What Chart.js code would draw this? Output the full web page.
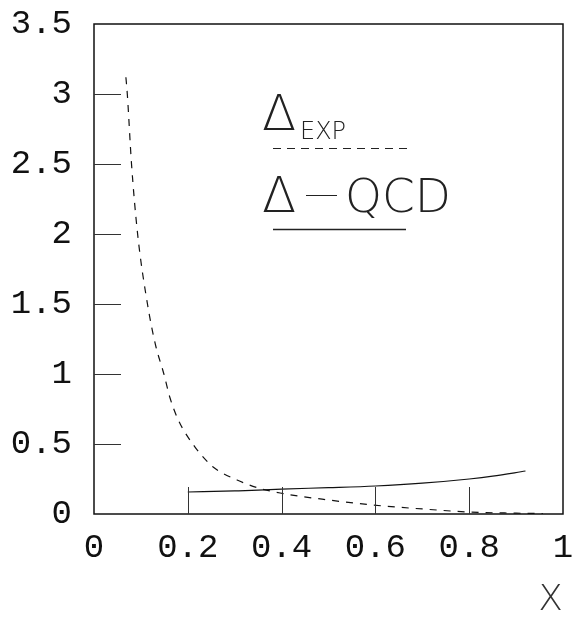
<!DOCTYPE html>
<html>
<head>
<meta charset="utf-8">
<script src="https://cdn.jsdelivr.net/npm/chart.js@4"></script>
<style>
  html, body { margin: 0; padding: 0; background: #fff; }
  #wrap { width: 573px; height: 619px; }
</style>
</head>
<body>
<div id="wrap"><canvas id="chartCanvas" width="573" height="619"></canvas></div>
<script>
// Delta_EXP curve (dashed)
var expX = [0.068, 0.071, 0.080, 0.093, 0.114, 0.131, 0.149, 0.162, 0.180, 0.215, 0.254, 0.305, 0.350, 0.397, 0.50, 0.595, 0.70, 0.80, 0.90, 0.957];
var expY = [3.12, 3.00, 2.50, 2.00, 1.50, 1.21, 1.00, 0.83, 0.67, 0.48, 0.336, 0.243, 0.186, 0.150, 0.100, 0.064, 0.036, 0.014, 0.006, 0.003];

// Delta - QCD curve (solid)
var qcdX = [0.20, 0.30, 0.35, 0.40, 0.50, 0.60, 0.70, 0.80, 0.85, 0.92];
var qcdY = [0.157, 0.165, 0.170, 0.178, 0.188, 0.200, 0.220, 0.250, 0.270, 0.307];

var xTicks = [0, 0.2, 0.4, 0.6, 0.8, 1];
var yTicks = [0, 0.5, 1, 1.5, 2, 2.5, 3, 3.5];

function toPoints(xs, ys) {
    return xs.map(function(x, i) { return { x: x, y: ys[i] }; });
}

// frame, inner ticks and the legend text
var framePlugin = {
    id: 'frame',
    afterDraw: function(chart) {
        var ctx = chart.ctx;
        var a = chart.chartArea;
        var xs = chart.scales.x, ys = chart.scales.y;
        ctx.save();
        ctx.strokeStyle = '#111';
        ctx.lineWidth = 1.5;
        ctx.strokeRect(a.left, a.top, a.right - a.left, a.bottom - a.top);
        ctx.lineWidth = 1;
        ctx.strokeStyle = '#333';
        yTicks.forEach(function(v) {
            if (v <= 0 || v >= 3.5) return;
            var py = Math.round(ys.getPixelForValue(v)) + 0.5;
            ctx.beginPath(); ctx.moveTo(a.left, py); ctx.lineTo(a.left + 27, py); ctx.stroke();
        });
        xTicks.forEach(function(v) {
            if (v <= 0 || v >= 1) return;
            var px = Math.round(xs.getPixelForValue(v)) + 0.5;
            ctx.beginPath(); ctx.moveTo(px, a.bottom); ctx.lineTo(px, a.bottom - 27); ctx.stroke();
        });

        // legend
        ctx.fillStyle = '#222';
        ctx.textBaseline = 'alphabetic';
        ctx.font = '200 50px "DejaVu Sans"';
        ctx.fillText('\u0394', 262, 130);
        ctx.font = '200 24px "DejaVu Sans"';
        ctx.fillText('EXP', 300, 139);
        ctx.setLineDash([8, 6]);
        ctx.strokeStyle = '#222';
        ctx.beginPath(); ctx.moveTo(273, 148.5); ctx.lineTo(408, 148.5); ctx.stroke();
        ctx.setLineDash([]);
        ctx.font = '200 50px "DejaVu Sans"';
        ctx.fillText('\u0394', 262, 212);
        ctx.beginPath(); ctx.moveTo(306, 195.5); ctx.lineTo(337, 195.5); ctx.stroke();
        ctx.font = '200 47px "DejaVu Sans"';
        ctx.fillText('QCD', 345, 212);
        ctx.lineWidth = 1.3;
        ctx.beginPath(); ctx.moveTo(273, 229.5); ctx.lineTo(406, 229.5); ctx.stroke();
        ctx.restore();
    }
};

var ctx = document.getElementById('chartCanvas').getContext('2d');
var myChart = new Chart(ctx, {
    type: 'scatter',
    data: {
        datasets: [{
            label: 'EXP',
            data: toPoints(expX, expY),
            showLine: true,
            borderColor: '#111',
            borderWidth: 1.2,
            borderDash: [7, 7],
            pointRadius: 0,
            cubicInterpolationMode: 'monotone'
        },
        {
            label: 'QCD',
            data: toPoints(qcdX, qcdY),
            showLine: true,
            borderColor: '#111',
            borderWidth: 1.2,
            pointRadius: 0,
            cubicInterpolationMode: 'monotone'
        }]
    },
    options: {
        responsive: false,
        animation: false,
        layout: { padding: { top: 24, right: 10, left: 0, bottom: 0 } },
        plugins: { legend: { display: false }, tooltip: { enabled: false } },
        scales: {
            x: {
                type: 'linear',
                min: 0,
                max: 1,
                afterBuildTicks: function(axis) {
                    axis.ticks = xTicks.map(function(v) { return { value: v }; });
                },
                afterFit: function(axis) {
                    axis.height = 105;
                    axis.paddingLeft = 0;
                    axis.paddingRight = 0;
                },
                grid: { display: false, drawTicks: false },
                border: { display: false },
                ticks: {
                    padding: 14,
                    maxRotation: 0,
                    color: '#111',
                    font: { family: '"Liberation Mono"', size: 34 },
                    callback: function(v) { return String(Math.round(v * 10) / 10); }
                },
                title: {
                    display: true,
                    text: 'X',
                    align: 'end',
                    color: '#333',
                    font: { family: '"DejaVu Sans"', size: 36, weight: 200, lineHeight: 1 },
                    padding: { top: 0, bottom: 0 }
                }
            },
            y: {
                type: 'linear',
                min: 0,
                max: 3.5,
                afterBuildTicks: function(axis) {
                    axis.ticks = yTicks.map(function(v) { return { value: v }; });
                },
                afterFit: function(axis) {
                    axis.width = 94;
                    axis.paddingTop = 0;
                    axis.paddingBottom = 0;
                },
                grid: { display: false, drawTicks: false },
                border: { display: false },
                ticks: {
                    padding: 22,
                    color: '#111',
                    font: { family: '"Liberation Mono"', size: 34 },
                    callback: function(v) { return String(Math.round(v * 10) / 10); }
                }
            }
        }
    },
    plugins: [framePlugin]
});
</script>
</body>
</html>
